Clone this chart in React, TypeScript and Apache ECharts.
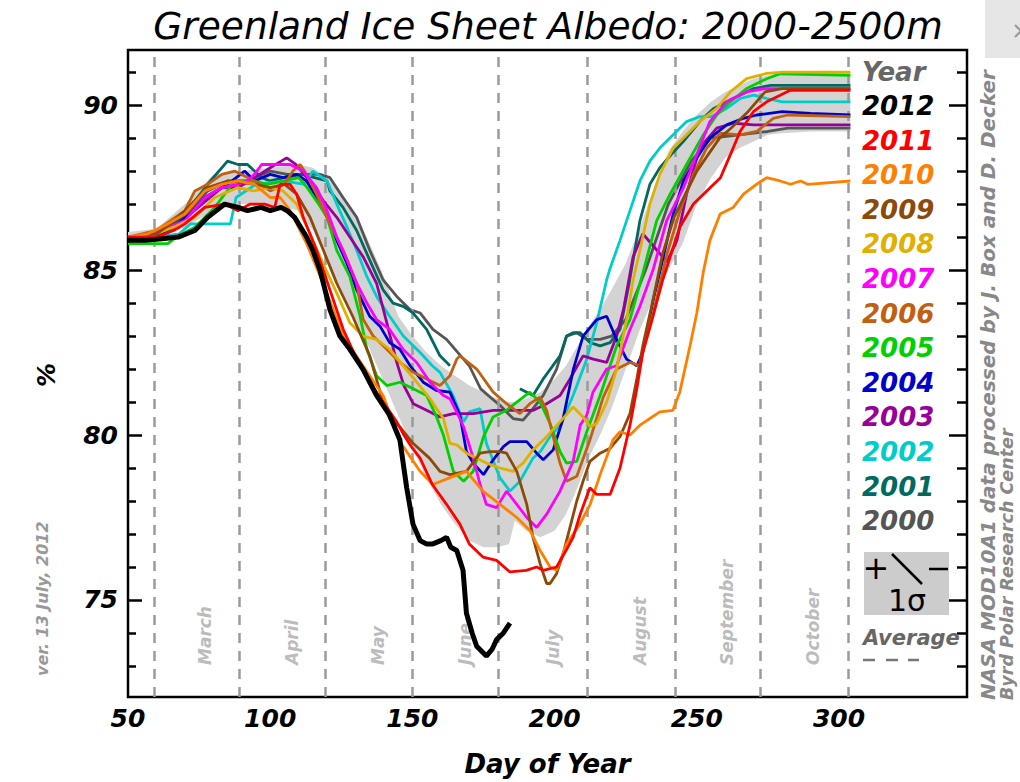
import { useEffect, useRef } from "react";
import * as echarts from "echarts";

const FONT = "'DejaVu Sans', sans-serif";

// ---- data (day of year, albedo %) ----
const y2012: [number, number][] = [[50,85.9],[56,85.9],[62,85.95],[67.6,86.0],[73.5,86.2],[78,86.6],[84,87.0],[88.7,86.9],[92,86.8],[96.8,86.9],[100,86.8],[103.8,86.9],[106,86.8],[108.6,86.6],[110.7,86.3],[112.8,86.0],[115,85.6],[117.5,85.0],[119,84.5],[121,83.8],[124.5,83.0],[128,82.6],[132.6,82.0],[135,81.6],[137.4,81.2],[142,80.6],[145.6,79.85],[148,78.4],[150.2,77.3],[152.7,76.8],[155,76.7],[157.2,76.7],[160,76.8],[162,76.9],[163.5,76.6],[165.6,76.5],[167.8,75.9],[169,74.6],[171,74.0],[172.6,73.6],[176,73.3],[178,73.5],[179.6,73.8],[182,74.0],[184.3,74.3]];
const y2011: [number, number][] = [[50,86.0],[60,86.0],[66,86.2],[70,86.4],[77,86.9],[84,87.0],[88.7,86.8],[93,87.0],[98,87.0],[101.6,86.9],[103.5,87.6],[107,87.6],[109.3,87.3],[111.6,86.6],[116.3,85.6],[121,84.4],[125.7,83.2],[130.4,82.3],[135,81.6],[139.7,81.0],[144.5,80.4],[147,80.0],[150,79.6],[152.7,79.3],[157,78.5],[162,77.9],[166.7,77.3],[170,76.7],[174.8,76.3],[179.6,76.2],[184.3,75.85],[190,75.9],[193.7,76.0],[196,75.9],[200.7,76.0],[204,76.5],[206.5,76.9],[209,77.6],[212.4,78.4],[214.8,78.2],[219.5,78.2],[223,79.0],[226.5,80.3],[228.9,81.4],[231,82.5],[234.6,83.6],[238,84.7],[241,85.5],[244,86.3],[248.8,87.0],[253.5,87.4],[258.3,87.8],[261.8,88.5],[265.2,89.2],[269.9,89.8],[274.6,90.1],[279.3,90.3],[282.8,90.45],[304,90.45]];
const y2010: [number, number][] = [[50,86.0],[57,86.1],[64,86.4],[70,86.7],[77,87.4],[83,87.6],[88.7,87.7],[94.5,87.6],[100,87.2],[103.5,87.2],[107,86.8],[112.8,85.8],[118.6,84.6],[125.7,83.0],[132.6,82.1],[139.7,81.2],[145.6,79.8],[152.7,78.9],[157.2,78.5],[163,78.7],[169,78.9],[174.8,78.3],[180.8,77.9],[186.7,77.5],[191.4,77.1],[194.9,76.5],[198.4,76.0],[200.7,75.9],[204.2,76.7],[208.9,77.3],[212.5,77.9],[216,78.8],[220.5,79.85],[223,80.1],[226.5,80.0],[230,80.3],[233.5,80.5],[237,80.7],[241.6,80.75],[244,81.3],[247.6,82.7],[250,83.7],[252.3,84.95],[254.6,85.9],[258.2,86.7],[262.8,86.9],[266.4,87.3],[271,87.6],[274.6,87.8],[279.3,87.7],[283,87.6],[286.5,87.7],[289,87.6],[304,87.7]];
const y2009: [number, number][] = [[50,86.0],[60,86.1],[65,86.4],[70,86.8],[78,87.5],[85,87.7],[95,87.6],[100,87.5],[105,87.6],[109.3,87.3],[114,86.6],[118.7,85.6],[123.4,84.6],[129,83.6],[135,82.4],[139.7,81.0],[142,80.5],[145.6,80.25],[150.2,79.75],[156,79.3],[159.7,78.9],[163.2,78.8],[169,78.9],[173.8,79.45],[177.3,79.5],[180.8,79.5],[183.1,79.45],[186.7,78.9],[190.2,77.9],[192.4,76.9],[194.9,76.1],[197.2,75.5],[198.4,75.5],[200.7,75.8],[203,76.4],[205.4,77.2],[207.8,78.0],[210,78.6],[212.4,79.2],[216,79.45],[219.5,79.6],[223,79.95],[226.5,80.65],[228.9,81.7],[231,82.7],[234.6,84.1],[238,85.5],[242,86.6],[246,87.3],[250,88.0],[254,88.5],[258,89.0],[262,89.3],[268,89.8],[274,90.4],[280,90.5],[304,90.5]];
const y2008: [number, number][] = [[50,86.0],[60,86.1],[66,86.3],[73.5,86.6],[80.5,87.2],[88.7,87.5],[94,87.4],[100,87.5],[104.5,87.4],[109.3,87.0],[114,86.1],[118.6,85.2],[123.4,84.3],[128,83.4],[132.6,83.0],[137.4,82.9],[142,82.6],[146.8,82.1],[151.5,81.6],[156.2,81.1],[158.5,80.8],[160.9,80.5],[163.2,79.75],[165.6,79.7],[169,79.45],[176,79.15],[180.8,79.0],[185.4,78.9],[188.9,79.15],[192.4,79.55],[197.2,79.95],[201.9,80.4],[206.5,80.85],[210,80.55],[212.5,80.25],[214.8,80.35],[218.3,81.0],[221.8,82.0],[225.3,83.5],[227.6,84.7],[230,85.6],[233.5,87.0],[237,87.9],[241.7,88.7],[246.4,89.1],[251,89.5],[257,89.9],[261.8,90.4],[267.5,90.8],[274.6,90.96],[280,91.0],[304,91.0]];
const y2007: [number, number][] = [[50,86.0],[56,86.0],[61.7,86.2],[70,86.5],[77,87.2],[83,87.5],[88.7,87.6],[92,87.7],[94.5,87.9],[97,88.2],[101.6,88.2],[107,88.2],[111.6,88.0],[116.3,87.5],[120,86.8],[123.4,86.0],[127,85.3],[130.4,84.6],[134,84.0],[137.4,83.5],[142,83.2],[146.7,82.6],[151.5,82.2],[156.2,81.6],[160.9,81.2],[163.2,81.1],[166.7,80.5],[168,80.25],[171.4,79.3],[173.8,78.5],[176,77.9],[179.6,77.8],[183.1,78.3],[186.7,77.9],[190.2,77.5],[193.7,77.2],[197.2,77.6],[201.9,78.3],[206.5,79.2],[209,80.3],[211.3,80.6],[213.5,81.3],[218.3,82.0],[221.8,82.1],[226.5,83.2],[230,83.9],[234.6,85.0],[239.4,86.5],[245.3,87.5],[250,88.5],[254.6,89.5],[260.5,90.1],[267.5,90.4],[274,90.5],[304,90.5]];
const y2006: [number, number][] = [[50,86.0],[55,86.1],[60,86.2],[65,86.5],[70,86.8],[73.5,87.4],[78,87.6],[83,87.9],[87.5,88.0],[94.5,87.7],[100,87.4],[105,87.6],[108,88.0],[110.5,88.2],[112.8,87.9],[116.3,87.3],[121,86.4],[125.7,85.6],[130.4,84.6],[132.7,83.5],[136.2,83.0],[141,82.6],[145.6,82.2],[150.3,81.9],[155,81.7],[159.7,81.5],[163.2,81.8],[165.6,82.3],[166.7,82.4],[172.6,82.0],[178.4,81.3],[183.1,80.95],[187.8,80.65],[191.3,80.95],[194.9,81.15],[197.2,80.75],[199.5,79.95],[201.9,79.15],[204.2,78.6],[207.8,78.75],[212.4,79.85],[217.1,81.15],[221.8,82.0],[226.5,82.2],[230,82.1],[232,83.0],[234.7,83.7],[239.4,85.45],[244.1,86.8],[248.8,87.9],[253.5,88.7],[258.2,89.15],[265.2,89.1],[271,89.2],[276.9,89.6],[282,89.7],[304,89.65]];
const y2005: [number, number][] = [[50,85.8],[57,85.8],[64,85.8],[67,86.0],[73.5,86.3],[80.5,86.9],[87.5,87.7],[94.5,87.7],[99,87.6],[105,87.7],[110,87.8],[113,87.5],[117,87.0],[120,86.6],[123.4,85.6],[128,84.8],[131.6,83.6],[134,82.6],[137.4,81.8],[141,81.5],[145.6,81.6],[150.3,81.4],[155,81.2],[158.5,80.55],[160.9,80.0],[164.4,78.9],[168,78.6],[171.4,78.9],[175,79.95],[178.4,80.55],[183.1,80.75],[186.7,81.0],[191.3,81.3],[194.9,81.0],[198.4,80.35],[201.9,79.5],[204.2,79.15],[207.8,79.2],[211.3,80.1],[216,81.2],[221.8,82.7],[226.5,83.5],[231,84.9],[235.9,86.5],[240.6,87.3],[246.4,88.2],[252.3,89.1],[257,89.7],[261.8,90.1],[267.5,90.5],[274.6,90.8],[279.3,90.95],[304,90.9]];
const y2004: [number, number][] = [[50,86.0],[60,86.0],[66,86.3],[72,86.7],[77,87.2],[85,87.6],[91,88.0],[94.5,87.7],[100,87.9],[104.5,87.8],[109.3,87.9],[112.8,87.7],[116.3,87.2],[120,86.6],[123.4,85.9],[127,85.2],[130.4,84.4],[135,83.6],[138.6,83.3],[142,82.8],[145.6,82.6],[149.2,82.1],[153.8,81.6],[158.5,81.35],[163.2,81.3],[166.7,80.6],[169,79.5],[171.4,79.15],[175,78.8],[178.4,79.25],[182,79.65],[184.3,79.8],[190.2,79.8],[193.7,79.45],[196,79.25],[199.5,79.55],[203,80.5],[206.6,82.0],[210,83.0],[214.8,83.5],[218.3,83.6],[221.8,82.9],[225.3,82.3],[228.9,82.1],[231,82.5],[234.7,84.1],[237,84.95],[241.7,86.7],[245.3,87.7],[250,88.4],[254.6,89.0],[260.5,89.4],[266.4,89.6],[271,89.7],[280,89.8],[290,89.75],[304,89.7]];
const y2003: [number, number][] = [[50,86.0],[60,86.1],[67.6,86.4],[76,87.0],[83,87.5],[88.7,87.5],[94.5,87.8],[100,88.1],[105.8,88.4],[109,88.2],[114,87.7],[118.7,87.1],[123.4,86.6],[128,86.0],[132.7,85.4],[137.4,84.6],[141,83.4],[144.5,82.2],[147,81.5],[150.3,80.95],[155,80.75],[159.7,80.55],[164.4,80.65],[171.4,80.65],[178.4,80.75],[183.1,80.75],[192.5,80.75],[197.2,80.95],[201.9,81.2],[205.4,81.7],[210,82.4],[213.6,82.3],[218.3,82.2],[221.8,83.0],[224.2,83.8],[227.6,85.4],[231,86.1],[236,85.6],[239.5,85.25],[243,85.9],[246.4,87.3],[251,88.7],[257,89.3],[262.8,89.45],[270,89.4],[304,89.4]];
const y2002: [number, number][] = [[50,86.0],[60,86.0],[68,86.1],[72,86.4],[86,86.4],[88,87.2],[95,87.6],[105,87.7],[112,87.6],[115,88.0],[120,87.7],[123.4,87.0],[127,86.3],[130.4,85.6],[134,84.8],[137.4,84.2],[142,83.6],[146.8,83.0],[152.7,82.5],[157,82.1],[159.7,81.9],[164.3,81.2],[168,80.4],[170,80.7],[173.8,80.8],[176,79.75],[180.8,78.7],[184.3,78.3],[187.8,78.6],[192.4,79.3],[195,79.5],[198.4,79.95],[202,80.3],[206.5,81.2],[211.3,82.3],[214.8,83.4],[218.3,84.7],[219.5,85.05],[223,85.9],[226.5,86.8],[230,87.7],[233.5,88.3],[237,88.7],[241.7,89.1],[246.4,89.5],[251,89.65],[255,89.65],[260.5,89.9],[265.2,90.2],[270,90.3],[274.6,90.2],[280,90.1],[304,90.1]];
const y2001: [number, number | null][] = [[50,86.0],[60,86.1],[65,86.3],[70,86.7],[78,87.6],[85,88.3],[88.7,88.2],[92,88.2],[97,87.8],[100,87.7],[105,87.8],[111,87.9],[115.6,87.8],[120,87.7],[121,87.4],[125.6,86.9],[130.4,86.2],[135,85.3],[139.7,84.4],[143.2,84.0],[146.7,83.9],[150.2,83.7],[155,83.2],[159.7,82.4],[163.2,82.1],[175,null],[187.8,81.4],[192.4,81.2],[196,81.7],[201.9,82.4],[204.2,83.0],[206.5,83.1],[209,83.1],[212.5,82.8],[216,82.7],[219.5,82.8],[223,83.2],[226,84.5],[230,86.5],[233.5,87.6],[237,88.1],[241,88.5],[245.3,88.9],[251,89.5],[256,89.9],[262.7,90.2],[270,90.5],[276,90.6],[304,90.6]];
const y2000: [number, number][] = [[50,86.0],[60,86.0],[66,86.3],[72,86.8],[78,87.4],[85,87.7],[92,87.7],[100,88.0],[106,87.9],[111,87.9],[117.5,87.9],[121,87.8],[125.6,87.2],[130.4,86.6],[135,85.6],[139.7,84.7],[144.5,84.2],[149.2,83.8],[152.7,83.7],[157.2,83.2],[162,82.9],[166,82.5],[170,82.1],[174,81.4],[178,81.1],[180.8,80.9],[185.4,80.5],[188.9,80.45],[192.4,80.8],[196,81.2],[200.7,82.0],[204.2,83.0],[207.8,83.1],[211.3,82.9],[216,82.9],[220,83.0],[225,83.5],[232,85.0],[240,87.0],[248,88.3],[255,89.0],[265,89.1],[275,89.2],[282,89.3],[304,89.3]];

// +/- 1 sigma envelope
const bandDays = [50,60,70,80,90,100,110,115,120,125,130,135,140,145,150,155,160,165,170,175,180,184,186,190,195,200,204,208,212,216,220,225,230,235,240,245,250,255,260,265,270,275,280,290,304];
const bandLower = [85.85,85.95,86.3,86.8,87.0,87.0,86.8,86.2,85.3,84.4,83.5,82.6,81.6,80.6,79.6,78.7,77.9,77.3,76.8,76.6,76.6,76.7,77.4,77.1,76.9,77.1,77.6,78.4,79.3,80.0,80.8,82.0,83.2,84.2,85.0,85.8,87.0,87.8,88.4,88.7,88.9,89.1,89.15,89.2,89.2];
const bandUpper = [86.15,86.25,87.0,87.9,88.0,88.1,88.2,88.1,87.8,87.3,86.7,85.8,84.8,83.6,83.0,82.5,82.1,81.8,81.5,81.3,81.1,81.0,81.0,81.1,81.3,81.7,82.1,82.7,83.3,83.8,84.4,85.2,86.3,87.5,88.6,89.2,89.7,90.1,90.4,90.6,90.8,90.9,91.0,91.0,91.0];

const years = ["2012","2011","2010","2009","2008","2007","2006","2005","2004","2003","2002","2001","2000"];
const yearData = [y2012,y2011,y2010,y2009,y2008,y2007,y2006,y2005,y2004,y2003,y2002,y2001,y2000];
const yearColors = ["#000000","#ff0000","#ff8000","#8c4a0a","#e0b000","#ff00ff","#c06010","#00d000","#0000cc","#990099","#00cccc","#006a60","#555555"];

const monthLineDays = [59.1,89,119.3,149.9,180.1,211.4,242.3,272.2,303.2];
const monthNames = ["March","April","May","June","July","August","September","October"];
const monthLabelDays = [77,107.7,138,168.5,199.4,230,260.6,291];
const xTickLabels = [50,100,150,200,250,300];
const yMajor = [75,80,85,90];
const yMinor = [73,74,76,77,78,79,81,82,83,84,86,87,88,89,91];

const X_MIN = 50, X_MAX = 345, Y_MIN = 72.06, Y_MAX = 91.67;

export default function App() {
  const ref = useRef<HTMLDivElement>(null);
  useEffect(() => {
    if (!ref.current) return;
    const chart = echarts.init(ref.current, undefined, { renderer: "svg" });
    const labelFont = { fontFamily: FONT, fontStyle: "italic", fontWeight: "bold", fontSize: 25, color: "#000" };
    const yBase: any = { type: "value", min: Y_MIN, max: Y_MAX, splitLine: { show: false }, axisLine: { show: false } };
    const tickStyle = { color: "#000", width: 2.5 };

    const series: any[] = [
      {
        type: "custom", silent: true, z: 1,
        data: bandDays.map((d, i) => [d, bandLower[i], bandUpper[i]]),
        encode: { x: 0, y: [1, 2] },
        renderItem: (params: any, api: any) => {
          if (params.dataIndex !== 0) return null;
          const pts: number[][] = [];
          for (let i = 0; i < bandDays.length; i++) pts.push(api.coord([bandDays[i], bandUpper[i]]));
          for (let i = bandDays.length - 1; i >= 0; i--) pts.push(api.coord([bandDays[i], bandLower[i]]));
          return { type: "polygon", shape: { points: pts }, style: { fill: "#d3d3d3" } };
        },
      },
      {
        type: "scatter", silent: true, symbolSize: 0, z: 2,
        data: monthLabelDays.map((d, i) => [d, 73.03, monthNames[i]]),
        label: {
          show: true, position: "inside", rotate: 90, align: "left", verticalAlign: "middle",
          formatter: (p: any) => p.data[2],
          fontFamily: FONT, fontStyle: "italic", fontWeight: "bold", fontSize: 17, color: "#aaaaaa",
        },
        markLine: {
          silent: true, symbol: "none", animation: false,
          label: { show: false },
          lineStyle: { color: "#9a9a9a", type: [10, 8], width: 2.5 },
          data: monthLineDays.map((d) => ({ xAxis: d })),
        },
      },
    ];
    for (let i = years.length - 1; i >= 0; i--) {
      series.push({
        type: "line", name: years[i], symbol: "none", showSymbol: false, z: 3 + (years.length - i),
        data: yearData[i], connectNulls: false,
        lineStyle: { color: yearColors[i], width: i === 0 ? 5 : 2.8 },
      });
    }

    const T = (x: number, y: number, text: string, fill: string, font: string, align = "left", extra: any = {}) => ({
      type: "text", x, y, z: 100, ...extra,
      style: { text, fill, font, textAlign: align, textVerticalAlign: "middle" },
    });

    const legendTexts: any[] = [
      T(862, 72, "Year", "#666", `italic bold 26px ${FONT}`),
      ...years.map((yr, i) => T(862, 106 + i * 34.6, yr, yearColors[i], `italic bold 26px ${FONT}`)),
    ];

    chart.setOption({
      animation: false,
      backgroundColor: "#fff",
      grid: { left: 128, top: 50, width: 839, height: 647, show: true, borderColor: "#000", borderWidth: 2.5, backgroundColor: "#fff" },
      xAxis: {
        type: "value", min: X_MIN, max: X_MAX,
        axisLine: { show: false }, axisTick: { show: false }, splitLine: { show: false },
        axisLabel: { ...labelFont, margin: 9, customValues: xTickLabels },
        name: "Day of Year", nameLocation: "middle", nameGap: 54,
        nameTextStyle: { fontFamily: FONT, fontStyle: "italic", fontWeight: "bold", fontSize: 26, color: "#000" },
      },
      yAxis: [
        { ...yBase, position: "left", axisTick: { inside: true, length: 14, lineStyle: tickStyle, customValues: yMajor }, axisLabel: { ...labelFont, margin: 10, customValues: yMajor } },
        { ...yBase, position: "left", axisTick: { inside: true, length: 8, lineStyle: tickStyle, customValues: yMinor }, axisLabel: { show: false } },
        { ...yBase, position: "right", axisTick: { inside: true, length: 18, lineStyle: tickStyle, customValues: yMajor }, axisLabel: { show: false } },
        { ...yBase, position: "right", axisTick: { inside: true, length: 10, lineStyle: tickStyle, customValues: yMinor }, axisLabel: { show: false } },
      ],
      series,
      graphic: [
        T(548, 26, "Greenland Ice Sheet Albedo: 2000-2500m", "#000", `italic 37.5px ${FONT}`, "center"),
        ...legendTexts,
        { type: "rect", z: 100, shape: { x: 864, y: 552, width: 85, height: 63 }, style: { fill: "#cccccc" } },
        T(876, 568, "+", "#000", `32px ${FONT}`, "center"),
        { type: "line", z: 101, shape: { x1: 892, y1: 554, x2: 922, y2: 584 }, style: { stroke: "#000", lineWidth: 2.5 } },
        { type: "line", z: 101, shape: { x1: 929, y1: 569, x2: 948, y2: 569 }, style: { stroke: "#000", lineWidth: 2.5 } },
        T(907, 600, "1σ", "#000", `30px ${FONT}`, "center"),
        T(863, 638, "Average", "#666", `italic bold 21px ${FONT}`),
        { type: "line", z: 100, shape: { x1: 863, y1: 660, x2: 875, y2: 660 }, style: { stroke: "#777", lineWidth: 2.5 } },
        { type: "line", z: 100, shape: { x1: 886, y1: 660, x2: 898, y2: 660 }, style: { stroke: "#777", lineWidth: 2.5 } },
        { type: "line", z: 100, shape: { x1: 908, y1: 660, x2: 919, y2: 660 }, style: { stroke: "#777", lineWidth: 2.5 } },
        T(988, 700, "NASA MOD10A1 data processed by J. Box and D. Decker", "#888", `italic bold 20px ${FONT}`, "left", { rotation: Math.PI / 2 }),
        T(1007, 700, "Byrd Polar Research Center", "#888", `italic bold 17.5px ${FONT}`, "left", { rotation: Math.PI / 2 }),
        T(42, 676, "ver. 13 July, 2012", "#999", `italic bold 16px ${FONT}`, "left", { rotation: Math.PI / 2 }),
        T(47, 375, "%", "#000", `italic bold 24px ${FONT}`, "center", { rotation: Math.PI / 2 }),
        { type: "rect", z: 100, shape: { x: 985, y: 0, width: 40, height: 58 }, style: { fill: "#e6e6e6" } },
        { type: "polyline", z: 101, shape: { points: [[1015, 25], [1021, 31], [1015, 37]] }, style: { stroke: "#999", lineWidth: 2, fill: null } },
      ],
    });
    return () => chart.dispose();
  }, []);
  return <div ref={ref} style={{ position: "fixed", left: 0, top: 0, width: 1020, height: 782, background: "#fff" }} />;
}
